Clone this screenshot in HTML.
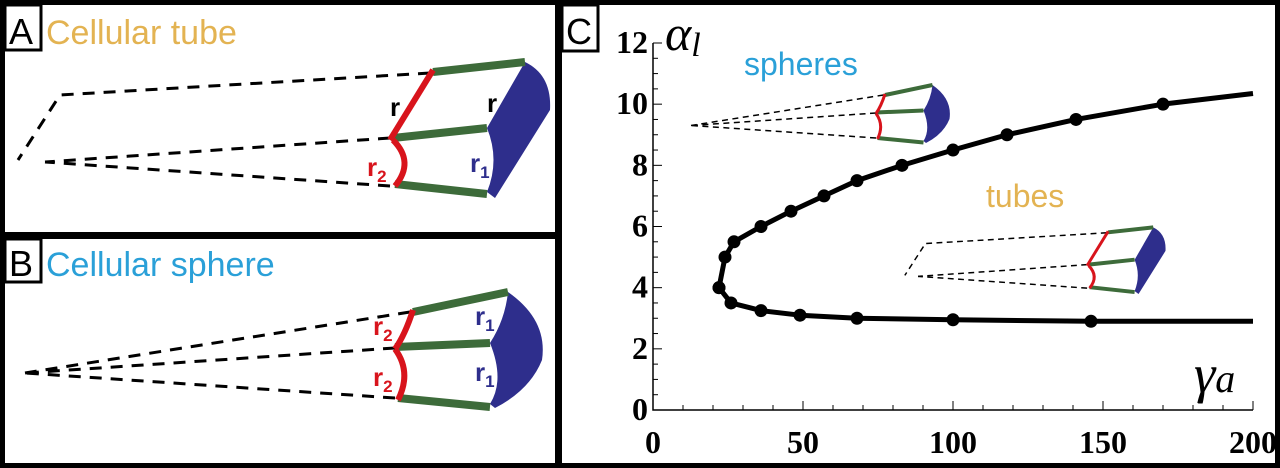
<!DOCTYPE html>
<html><head><meta charset="utf-8"><style>
html,body{margin:0;padding:0;background:#000;}
svg{display:block;}
.sans{font-family:"Liberation Sans",sans-serif;}
.serif{font-family:"Liberation Serif",serif;}
</style></head><body>
<svg width="1280" height="468" viewBox="0 0 1280 468">
<rect x="0" y="0" width="1280" height="468" fill="#000"/>
<rect x="5" y="5" width="550" height="227" fill="#fff"/>
<rect x="5" y="239" width="550" height="224" fill="#fff"/>
<rect x="562" y="5" width="713" height="458" fill="#fff"/>
<defs>
<g id="tube">
 <g fill="none" stroke="#000" stroke-width="3" stroke-dasharray="12,9">
  <path d="M430,73 L60,95 L18,160"/>
  <path d="M390,138 L45,162"/>
  <path d="M390,186 L45,162"/>
 </g>
 <path d="M525,62 Q552,75 550,110 L495,198 L487,192 Q500,160 487,128 Z" fill="#2e2e8c"/>
 <path d="M433,72 L525,62 M393,138 L487,128 M395,184 L487,194" stroke="#3d6b3a" stroke-width="8" fill="none"/>
 <path d="M433,70 L390,140" stroke="#d8141c" stroke-width="6" fill="none"/>
 <path d="M393,140 Q415,162 395,186" stroke="#d8141c" stroke-width="6" fill="none"/>
</g>
<g id="sphere">
 <g fill="none" stroke="#000" stroke-width="3" stroke-dasharray="12,9">
  <path d="M410,312 L25,373"/>
  <path d="M395,348 L25,373"/>
  <path d="M395,398 L25,373"/>
 </g>
 <path d="M508,292 Q548,320 542,360 Q530,390 495,408 L490,404 Q505,380 490,343 Q505,320 508,292 Z" fill="#2e2e8c"/>
 <path d="M413,312 L508,292 M395,347 L490,343 M398,398 L490,407" stroke="#3d6b3a" stroke-width="8" fill="none"/>
 <path d="M413,310 Q405,335 395,349 M395,349 Q412,372 398,400" stroke="#d8141c" stroke-width="6" fill="none"/>
</g>
</defs>
<!-- Panel A -->
<rect x="5" y="5" width="36" height="45" fill="#fff" stroke="#000" stroke-width="3"/>
<text class="sans" x="9" y="44" font-size="36" fill="#000">A</text>
<text class="sans" x="46" y="44" font-size="34" fill="#e3b352">Cellular tube</text>
<use href="#tube"/>
<g class="sans" font-size="26" font-weight="bold">
<text x="390" y="116" fill="#000">r</text><text x="487" y="112" fill="#000">r</text>
<text x="367" y="176" fill="#d8141c">r<tspan font-size="17" dy="6">2</tspan></text>
<text x="470" y="172" fill="#2e2e8c">r<tspan font-size="17" dy="6">1</tspan></text>
</g>
<!-- Panel B -->
<rect x="5" y="239" width="36" height="43" fill="#fff" stroke="#000" stroke-width="3"/>
<text class="sans" x="9" y="276" font-size="36" fill="#000">B</text>
<text class="sans" x="46" y="276" font-size="34" fill="#2aa0d8">Cellular sphere</text>
<use href="#sphere"/>
<g class="sans" font-size="26" font-weight="bold">
<text x="373" y="335" fill="#d8141c">r<tspan font-size="17" dy="6">2</tspan></text>
<text x="373" y="386" fill="#d8141c">r<tspan font-size="17" dy="6">2</tspan></text>
<text x="475" y="325" fill="#2e2e8c">r<tspan font-size="17" dy="6">1</tspan></text>
<text x="475" y="381" fill="#2e2e8c">r<tspan font-size="17" dy="6">1</tspan></text>
</g>
<!-- Panel C -->
<rect x="562" y="5" width="36" height="46" fill="#fff" stroke="#000" stroke-width="3"/>
<text class="sans" x="566" y="44" font-size="36" fill="#000">C</text>
<text class="sans" x="744" y="75" font-size="32" fill="#2aa0d8">spheres</text>
<text class="sans" x="986" y="207" font-size="32" fill="#e3b352">tubes</text>
<use href="#sphere" transform="translate(678.5,-61) scale(0.5)"/>
<use href="#tube" transform="translate(896,197) scale(0.49)"/>
<text class="serif" x="665" y="50" font-size="50" font-style="italic">α<tspan font-size="34" dy="6">l</tspan></text>
<text class="serif" x="1194" y="392" font-size="54" font-style="italic">γ<tspan font-size="40">a</tspan></text>
<g id="chart"></g>
</svg>
<script>
const xTicks=[0,50,100,150,200];
const yTicks=[0,2,4,6,8,10,12];
const upperX=[22,24,27,36,46,57,68,83,100,118,141,170];
const upperY=[4,5,5.5,6,6.5,7,7.5,8,8.5,9,9.5,10];
const upperEndX=200, upperEndY=10.35;
const lowerX=[22,26,36,49,68,100,146];
const lowerY=[4,3.5,3.25,3.1,3,2.95,2.9];
const lowerEndX=200, lowerEndY=2.9;

const NS='http://www.w3.org/2000/svg';
const g=document.getElementById('chart');
const X0=653,X1=1253,Y0=410,Y1=43;
const sx=v=>X0+(v-0)/(200-0)*(X1-X0);
const sy=v=>Y0-(v-0)/(12-0)*(Y0-Y1);
function mk(t,a){const e=document.createElementNS(NS,t);for(const k in a)e.setAttribute(k,a[k]);g.appendChild(e);return e;}
let ax=mk('path',{d:`M${X0},${Y1} L${X0},${Y0} L${X1},${Y0}`,stroke:'#000','stroke-width':1.5,fill:'none'});


for(let v=0;v<=200;v+=10){const big=v%50===0;const t=mk('line',{x1:sx(v),x2:sx(v),y1:Y0,y2:Y0-(big?9:5),stroke:'#000','stroke-width':1});

}
for(let v=0;v<=12;v+=0.5){const big=v%2===0;const t=mk('line',{x1:X0,x2:X0+(big?9:5),y1:sy(v),y2:sy(v),stroke:'#000','stroke-width':1});

}
xTicks.forEach(v=>{const t=mk('text',{x:sx(v),y:Y0+43,'text-anchor':'middle','font-size':32,'font-weight':'bold',class:'serif'});t.textContent=v;

});
yTicks.forEach(v=>{const t=mk('text',{x:X0-5,y:sy(v)+10,'text-anchor':'end','font-size':32,'font-weight':'bold',class:'serif'});t.textContent=v;

});
function line(xs,ys,ex,ey,name){
 const pts=xs.map((x,i)=>[sx(x),sy(ys[i])]);pts.push([sx(ex),sy(ey)]);
 const p=mk('polyline',{points:pts.map(p=>p.join(',')).join(' '),fill:'none',stroke:'#000','stroke-width':5,'stroke-linejoin':'round'});
 
 
 xs.forEach((x,i)=>{const c=mk('circle',{cx:sx(x),cy:sy(ys[i]),r:6.5,fill:'#000'});
 
 });
}
line(upperX,upperY,upperEndX,upperEndY,'upper-branch');
line(lowerX,lowerY,lowerEndX,lowerEndY,'lower-branch');
</script>
</body></html>
